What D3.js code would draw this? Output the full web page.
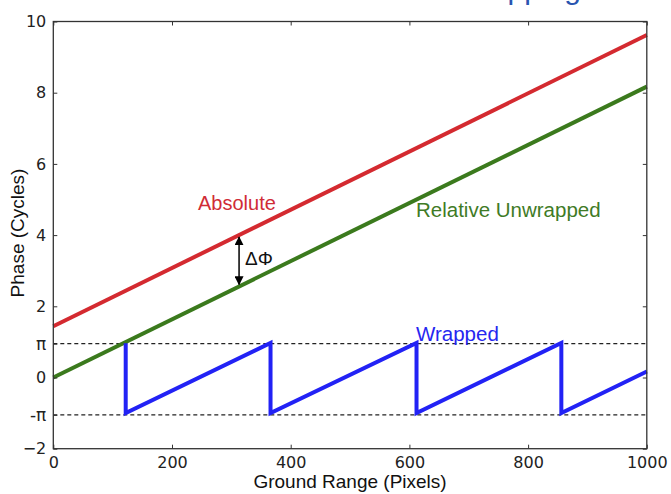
<!DOCTYPE html>
<html>
<head>
<meta charset="utf-8">
<script src="https://cdn.jsdelivr.net/npm/d3@7"></script>
<style>
  html, body { margin: 0; padding: 0; background: #fff; }
  svg { display: block; }
</style>
</head>
<body>
<svg id="chart" width="671" height="494"></svg>
<script>
// ---- data ----
const xDomain = [0, 1000];
const yDomain = [-2, 10];
const xTickValues = [0, 200, 400, 600, 800, 1000];
const yTickValues = [-2, 0, 2, 4, 6, 8, 10];
const piLevels = [0.95, -1.05];
const piLabels = ["π", "-π"];

const absoluteX = [0, 1000];
const absoluteY = [1.44, 9.62];
const relativeX = [0, 1000];
const relativeY = [0, 8.17];
const wrappedX = [122, 122, 366, 366, 612, 612, 856, 856, 1000];
const wrappedY = [0.96, -1.0, 0.97, -1.0, 0.97, -1.0, 0.97, -1.0, 0.17];

const deltaPhiX = 313;
const titleText = "Phase Unwrapping";

// ---- layout ----
const svg = d3.select("#chart");
const plotLeft = 53.3, plotRight = 646.8, plotTop = 21.5, plotBottom = 448.7;
const x = d3.scaleLinear().domain(xDomain).range([plotLeft, plotRight]);
const y = d3.scaleLinear().domain(yDomain).range([plotBottom, plotTop]);

const tickFont = "'DejaVu Sans', sans-serif";
const labelFont = "'Liberation Sans', Arial, sans-serif";

// cut-off title at the very top
svg.append("text")
  .attr("x", 581).attr("y", -1)
  .attr("text-anchor", "end")
  .attr("font-family", labelFont)
  .attr("font-size", 30)
  .attr("fill", "#2a55b0")
  .text(titleText);

// dashed pi lines
svg.append("g").selectAll("line").data(piLevels).join("line")
  .attr("x1", x(xDomain[0])).attr("x2", x(xDomain[1]))
  .attr("y1", d => y(d)).attr("y2", d => y(d))
  .attr("stroke", "#222").attr("stroke-width", 1.2)
  .attr("stroke-dasharray", "4,3");

const line = d3.line().x(d => x(d[0])).y(d => y(d[1]));
const series = [
  { xs: absoluteX, ys: absoluteY, color: "#d42a30" },
  { xs: relativeX, ys: relativeY, color: "#3b7a1d" },
  { xs: wrappedX, ys: wrappedY, color: "#2222f5" }
];
series.forEach(s => {
  svg.append("path")
    .datum(s.xs.map((v, i) => [v, s.ys[i]]))
    .attr("d", line)
    .attr("fill", "none")
    .attr("stroke", s.color)
    .attr("stroke-width", 4)
    .attr("stroke-linejoin", "miter")
    .attr("stroke-linecap", "butt");
});

// axes (ticks inward, on all four sides)
function styleAxis(g) {
  g.select(".domain").remove();
  g.selectAll(".tick line").attr("stroke", "#333").attr("stroke-width", 1);
  g.selectAll(".tick text").attr("fill", "#222")
    .attr("font-family", tickFont).attr("font-size", 16);
}
const fmt = d => d < 0 ? "\u2212" + Math.abs(d) : String(d);

svg.append("g").attr("transform", `translate(0,${plotBottom})`)
  .call(d3.axisBottom(x).tickValues(xTickValues).tickSizeInner(-4).tickSizeOuter(0).tickPadding(8).tickFormat(fmt))
  .call(styleAxis);
svg.append("g").attr("transform", `translate(0,${plotTop})`)
  .call(d3.axisTop(x).tickValues(xTickValues).tickSizeInner(-4).tickSizeOuter(0).tickFormat(""))
  .call(styleAxis);
svg.append("g").attr("transform", `translate(${plotLeft},0)`)
  .call(d3.axisLeft(y).tickValues(yTickValues).tickSizeInner(-4).tickSizeOuter(0).tickPadding(7).tickFormat(fmt))
  .call(styleAxis);
svg.append("g").attr("transform", `translate(${plotRight},0)`)
  .call(d3.axisRight(y).tickValues(yTickValues).tickSizeInner(-4).tickSizeOuter(0).tickFormat(""))
  .call(styleAxis);

// pi labels on left axis
const piScale = d3.scaleOrdinal().domain(piLevels).range(piLabels);
svg.append("g").attr("transform", `translate(${plotLeft},0)`)
  .call(d3.axisLeft(y).tickValues(piLevels).tickSizeInner(-4).tickSizeOuter(0).tickPadding(7).tickFormat(d => piScale(d)))
  .call(styleAxis)
  .selectAll(".tick text").attr("font-size", 17);

// frame
svg.append("rect")
  .attr("x", plotLeft).attr("y", plotTop)
  .attr("width", plotRight - plotLeft).attr("height", plotBottom - plotTop)
  .attr("fill", "none").attr("stroke", "#333").attr("stroke-width", 1.3);

// axis labels
svg.append("text")
  .attr("x", (plotLeft + plotRight) / 2).attr("y", 488)
  .attr("text-anchor", "middle")
  .attr("font-family", labelFont).attr("font-size", 19)
  .attr("fill", "#111")
  .text("Ground Range (Pixels)");
svg.append("text")
  .attr("transform", "translate(24,233) rotate(-90)")
  .attr("text-anchor", "middle")
  .attr("font-family", labelFont).attr("font-size", 19)
  .attr("fill", "#111")
  .text("Phase (Cycles)");

// series labels
svg.append("text").attr("x", 198).attr("y", 210)
  .attr("font-family", labelFont).attr("font-size", 20)
  .attr("fill", "#d02c36").text("Absolute");
svg.append("text").attr("x", 416).attr("y", 217)
  .attr("font-family", labelFont).attr("font-size", 20.5)
  .attr("fill", "#3f7b26").text("Relative Unwrapped");
svg.append("text").attr("x", 416).attr("y", 340.5)
  .attr("font-family", labelFont).attr("font-size", 20.5)
  .attr("fill", "#2626f0").text("Wrapped");

// delta phi double arrow
const interp = (xs, ys, v) => ys[0] + (ys[1] - ys[0]) * (v - xs[0]) / (xs[1] - xs[0]);
const ax = x(deltaPhiX);
const ay1 = y(interp(absoluteX, absoluteY, deltaPhiX)) + 2;
const ay2 = y(interp(relativeX, relativeY, deltaPhiX)) - 2;
const defs = svg.append("defs");
defs.append("marker").attr("id", "ah")
  .attr("viewBox", "0 0 10 10").attr("refX", 9).attr("refY", 5)
  .attr("markerWidth", 9).attr("markerHeight", 9)
  .attr("markerUnits", "userSpaceOnUse")
  .attr("orient", "auto-start-reverse")
  .append("path").attr("d", "M0,0 L10,5 L0,10 z").attr("fill", "#000");
svg.append("line")
  .attr("x1", ax).attr("x2", ax).attr("y1", ay1).attr("y2", ay2)
  .attr("stroke", "#000").attr("stroke-width", 1.5)
  .attr("marker-start", "url(#ah)").attr("marker-end", "url(#ah)");
svg.append("text").attr("x", ax + 6).attr("y", 265)
  .attr("font-family", labelFont).attr("font-size", 19)
  .attr("fill", "#111").text("ΔΦ");
</script>
</body>
</html>
